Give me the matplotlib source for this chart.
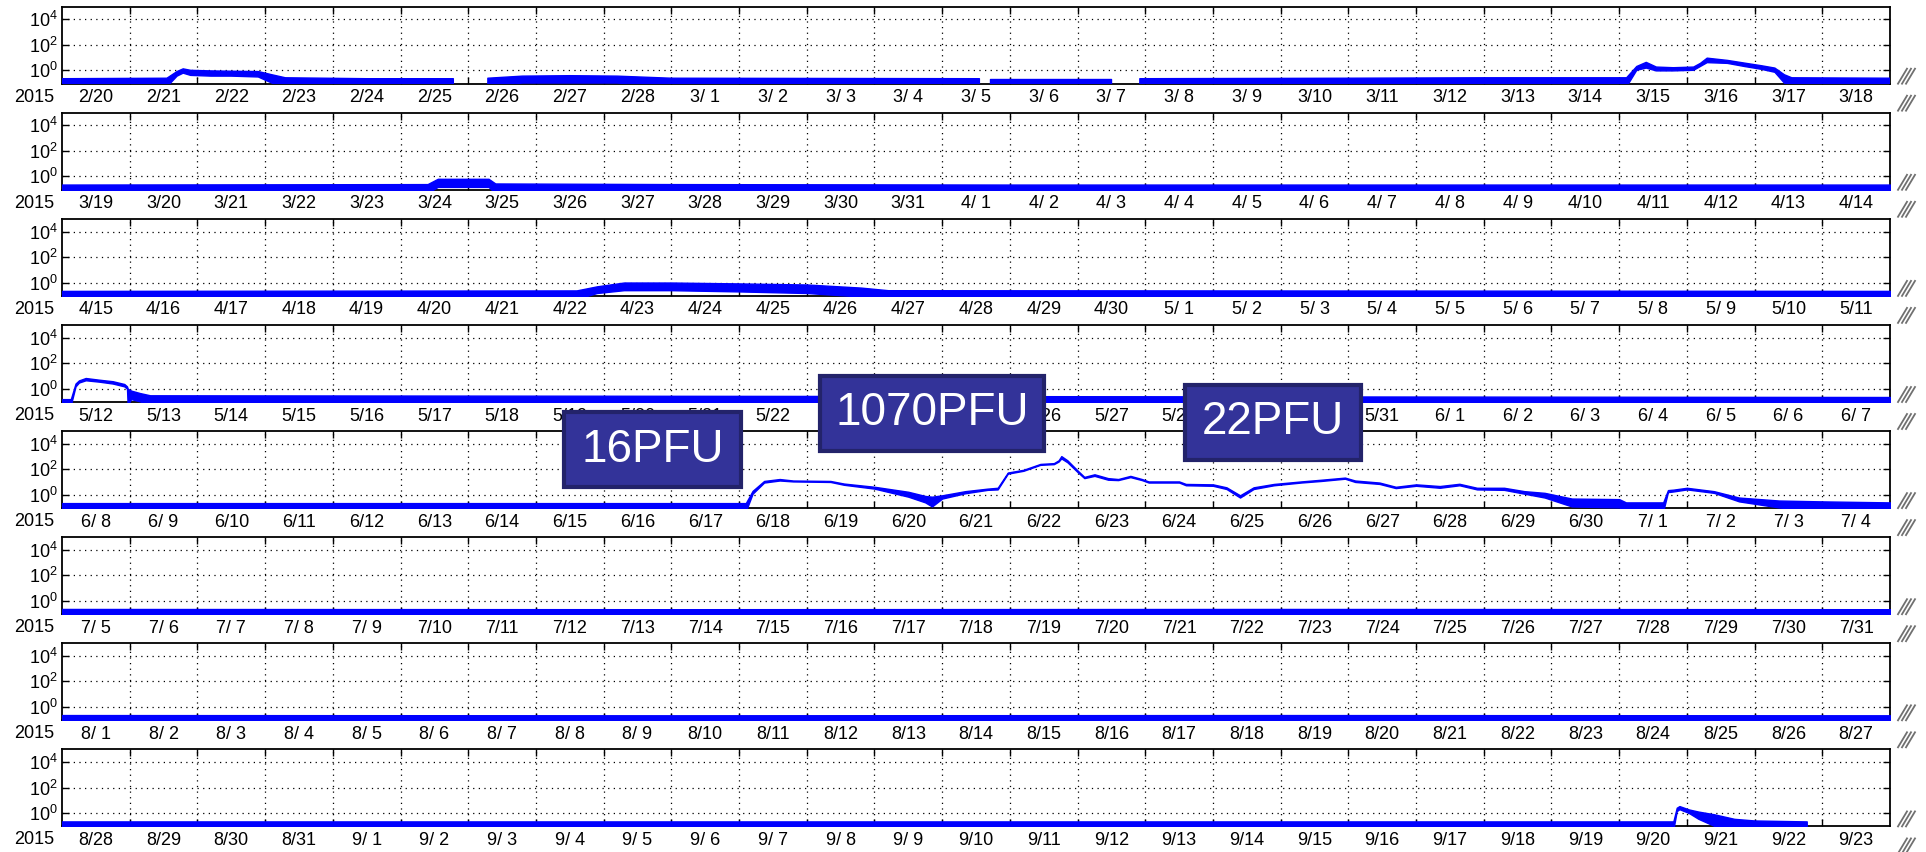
import datetime as dt
import numpy as np
import matplotlib
matplotlib.use("Agg")
import matplotlib.pyplot as plt
from matplotlib.patches import Rectangle
from matplotlib.lines import Line2D

plt.rcParams['font.family'] = ['Liberation Sans', 'DejaVu Sans']
plt.rcParams['mathtext.fontset'] = 'custom'
plt.rcParams['mathtext.rm'] = 'Liberation Sans'
plt.rcParams['mathtext.it'] = 'Liberation Sans:italic'
plt.rcParams['mathtext.default'] = 'regular'

nan = np.nan

# ---------------- data (proton flux, pfu; day offsets from panel start) ----------------
panel_starts = ["2015-02-20", "2015-03-19", "2015-04-15", "2015-05-12",
                "2015-06-08", "2015-07-05", "2015-08-01", "2015-08-28"]
year_label = "2015"
ytick_vals = [1e0, 1e2, 1e4]
ytick_labels = [r"$10^{0}$", r"$10^{2}$", r"$10^{4}$"]

p1_day = [0.0, 1.55, 1.70, 1.79, 1.90, 2.20, 2.50, 2.90, 3.10, 3.30, 4.5, 5.78, 5.79, 6.28, 6.29,
          6.8, 7.5, 8.2, 9.0, 13.55, 13.56, 13.69, 13.70, 15.50, 15.51, 15.91, 15.92, 19.0, 21.0,
          23.11, 23.26, 23.40, 23.55, 23.80, 24.10, 24.20, 24.30, 24.60, 24.85, 25.10, 25.30,
          25.44, 25.55, 27.0]
p1_hi = [0.22, 0.24, 0.8, 1.3, 1.0, 0.9, 0.85, 0.8, 0.45, 0.26, 0.22, 0.22, nan, nan, 0.24,
         0.35, 0.38, 0.35, 0.24, 0.22, nan, nan, 0.22, 0.22, nan, nan, 0.22, 0.24, 0.26,
         0.26, 2.0, 4.2, 1.8, 1.6, 1.8, 3.5, 9.0, 6.0, 3.7, 2.3, 1.5, 0.45, 0.26, 0.24]
p1_lo = [0.05, 0.05, 0.35, 0.6, 0.4, 0.35, 0.35, 0.3, 0.1, 0.05, 0.05, 0.05, nan, nan, 0.05,
         0.1, 0.1, 0.1, 0.05, 0.05, nan, nan, 0.05, 0.05, nan, nan, 0.05, 0.05, 0.05,
         0.05, 1.0, 1.5, 0.9, 0.9, 1.0, 2.0, 4.0, 3.5, 2.0, 1.2, 0.7, 0.1, 0.05, 0.05]

p2_day = [0.0, 3.0, 5.40, 5.55, 6.30, 6.40, 9.0, 14.0, 27.0]
p2_hi = [0.23, 0.24, 0.25, 0.65, 0.65, 0.28, 0.25, 0.23, 0.23]
p2_lo = [0.05, 0.05, 0.05, 0.15, 0.15, 0.05, 0.05, 0.05, 0.05]

p3_day = [0.0, 7.6, 7.9, 8.3, 9.0, 10.0, 11.0, 11.8, 12.2, 27.0]
p3_hi = [0.22, 0.24, 0.5, 1.0, 1.0, 0.85, 0.7, 0.4, 0.25, 0.22]
p3_lo = [0.05, 0.05, 0.15, 0.25, 0.25, 0.2, 0.15, 0.08, 0.05, 0.05]

p4_day = [0.0, 0.13, 0.20, 0.25, 0.35, 0.55, 0.75, 0.92, 0.96, 0.97, 1.02, 1.15, 1.30, 27.0]
p4_hi = [0.15, 0.15, 2.5, 4.4, 6.8, 5.0, 3.8, 2.3, 1.5, 1.0, 0.7, 0.45, 0.3, 0.22]
p4_lo = [0.05, 0.05, 1.5, 3.0, 4.5, 3.5, 2.5, 1.5, 1.0, 0.05, 0.15, 0.1, 0.05, 0.05]

p5_day = [0.0, 10.10, 10.20, 10.37, 10.60, 10.80, 11.35, 11.55, 12.00, 12.50,
          12.75, 12.85, 13.00, 13.34, 13.67, 13.82, 13.97, 14.20, 14.45, 14.65,
          14.72, 14.76, 14.85, 15.00, 15.10, 15.25, 15.45, 15.60, 15.78, 15.95,
          16.05, 16.50, 16.60, 17.00, 17.20, 17.40, 17.60, 17.90, 18.30, 18.60,
          18.95, 19.10, 19.46, 19.70, 20.00, 20.35, 20.64, 20.90, 21.30, 21.60,
          21.90, 22.30, 23.00, 23.10, 23.65, 23.72, 23.80, 24.00, 24.40, 24.77,
          25.36, 26.00, 27.0]
p5_hi = [0.22, 0.22, 2.0, 12, 17, 13, 12, 7.5, 4.2, 1.7,
         0.8, 0.7, 0.9, 1.9, 3.0, 3.5, 55, 90, 260, 300,
         500, 1070, 500, 80, 25, 40, 20, 17, 30, 17,
         11, 11, 7.0, 6.5, 3.8, 0.9, 3.8, 7.0, 11, 15,
         22, 13, 9.0, 4.2, 6.5, 4.8, 7.2, 3.5, 3.5, 1.9,
         1.4, 0.5, 0.45, 0.25, 0.25, 2.3, 2.5, 3.5, 1.9, 0.6,
         0.35, 0.3, 0.25]
p5_lo = [0.05, 0.05, 1.2, 9, 13, 11, 10, 6, 3, 0.7,
         0.25, 0.12, 0.5, 1.3, 2.4, 2.6, 45, 75, 220, 250,
         400, 700, 350, 60, 20, 30, 15, 14, 24, 14,
         9, 9, 5.5, 5, 2.8, 0.6, 2.8, 5.5, 9, 12,
         18, 10, 7, 3.3, 5, 3.5, 5.5, 2.6, 2.4, 1.2,
         0.6, 0.12, 0.1, 0.05, 0.05, 1.6, 1.8, 2.6, 1.4, 0.3,
         0.1, 0.05, 0.05]

p6_day = [0.0, 9.0, 18.0, 27.0]
p6_hi = [0.23, 0.22, 0.23, 0.22]
p6_lo = [0.05, 0.05, 0.05, 0.05]

p7_day = [0.0, 9.0, 18.0, 27.0]
p7_hi = [0.23, 0.22, 0.23, 0.22]
p7_lo = [0.05, 0.05, 0.05, 0.05]

p8_day = [0.0, 23.80, 23.85, 23.89, 24.03, 24.17, 24.40, 24.70, 25.00, 25.77]
p8_hi = [0.22, 0.22, 2.6, 3.5, 1.9, 1.3, 0.8, 0.35, 0.26, 0.22]
p8_lo = [0.05, 0.05, 1.4, 2.0, 1.0, 0.35, 0.1, 0.05, 0.05, 0.05]

panels = [(p1_day, p1_hi, p1_lo), (p2_day, p2_hi, p2_lo), (p3_day, p3_hi, p3_lo),
          (p4_day, p4_hi, p4_lo), (p5_day, p5_hi, p5_lo), (p6_day, p6_hi, p6_lo),
          (p7_day, p7_hi, p7_lo), (p8_day, p8_hi, p8_lo)]

ann_texts = ["16PFU", "1070PFU", "22PFU"]

# ---------------- layout ----------------
W, H = 1926, 852
fig = plt.figure(figsize=(W / 100, H / 100), dpi=100)

ax_left, ax_right = 62, 1890
top0, step, ph = 6.7, 106.1, 77.0
n_days = 27

for i, (days, hi, lo) in enumerate(panels):
    top = top0 + step * i
    ax = fig.add_axes([ax_left / W, 1 - (top + ph) / H, (ax_right - ax_left) / W, ph / H])
    ax.set_yscale('log')
    ax.set_xlim(0, n_days)
    ax.set_ylim(10 ** -1.05, 10 ** 4.99)

    d = np.array(days, float)
    h = np.array(hi, float)
    l = np.array(lo, float)
    ax.fill_between(d, l, h, color='#0000ff', linewidth=1.0, edgecolor='#0000ff', zorder=3)

    start = dt.date.fromisoformat(panel_starts[i])
    labels = []
    for k in range(n_days):
        dd = start + dt.timedelta(days=k)
        labels.append(f"{dd.month}/{dd.day:2d}")
    ax.set_xticks(np.arange(1, n_days))
    ax.set_xticklabels([])
    ax.set_xticks(np.arange(n_days) + 0.5, minor=True)
    ax.set_xticklabels(labels, minor=True)
    ax.set_yticks(ytick_vals)
    ax.set_yticklabels(ytick_labels)
    ax.yaxis.set_minor_locator(matplotlib.ticker.NullLocator())

    ax.tick_params(which='major', direction='in', length=5, width=1.0,
                   top=True, right=True, labelsize=13, pad=3)
    ax.tick_params(axis='x', which='minor', length=0, labelsize=13, pad=4)
    ax.tick_params(axis='y', which='major', labelsize=13, pad=3)
    ax.grid(True, which='major', linestyle=(0, (1, 3.5)), color='black', linewidth=0.9)
    for sp in ax.spines.values():
        sp.set_linewidth(1.3)
    ax.text((34 - ax_left) / (ax_right - ax_left), -5 / ph, year_label,
            transform=ax.transAxes, ha='center', va='top', fontsize=13)

    # break marks at right side
    for (yb, yt) in [(top + 77, top + 62), (top + 104, top + 89)]:
        for k in range(3):
            x0 = 1898 + 4 * k
            fig.add_artist(Line2D([x0 / W, (x0 + 9) / W], [1 - yb / H, 1 - yt / H],
                                  transform=fig.transFigure, color='#707070', lw=1.3))

# ---------------- annotation boxes ----------------
boxes = [(564, 412, 741, 487), (820, 376, 1044, 451), (1185, 385, 1361, 460)]
for (x0, y0, x1, y1), txt in zip(boxes, ann_texts):
    fig.add_artist(Rectangle((x0 / W, 1 - y1 / H), (x1 - x0) / W, (y1 - y0) / H,
                             transform=fig.transFigure, facecolor='#333399',
                             edgecolor='#23236a', linewidth=3, zorder=10))
    fig.text((x0 + x1) / 2 / W, 1 - (y0 + y1) / 2 / H, txt, color='white', fontsize=33,
             ha='center', va='center', zorder=11)

fig.savefig("out.png", dpi=100)
